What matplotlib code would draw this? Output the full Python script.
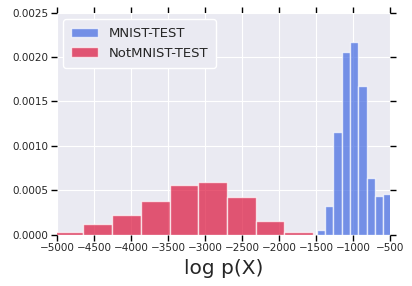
import numpy as np
import matplotlib.pyplot as plt

# bin edges and densities
mnist_edges = [-1490, -1378, -1266, -1154, -1042, -930, -818, -706, -594, -482]
mnist_density = [0.000053, 0.000323, 0.001156, 0.002057, 0.00217,
                 0.001674, 0.000638, 0.000435, 0.000458]

notmnist_edges = [-5029, -4641, -4254, -3866, -3478, -3091, -2703, -2315, -1928, -1540]
notmnist_density = [0.000034, 0.000124, 0.000225, 0.000383, 0.000563,
                    0.000597, 0.000428, 0.000158, 0.000034]

xticks = np.arange(-5000, -499, 500)
yticks = [0.0, 0.0005, 0.0010, 0.0015, 0.0020, 0.0025]

plt.style.use('seaborn-v0_8-darkgrid')
plt.rcParams['font.family'] = ['DejaVu Sans']

fig = plt.figure(figsize=(4.12, 2.86), dpi=100)
ax = fig.add_axes([0.138, 0.179, 0.809, 0.777])

ax.bar(mnist_edges[:-1], mnist_density, width=np.diff(mnist_edges), align='edge',
       color='royalblue', alpha=0.7, edgecolor='white', linewidth=1, label='MNIST-TEST')
ax.bar(notmnist_edges[:-1], notmnist_density, width=np.diff(notmnist_edges), align='edge',
       color='crimson', alpha=0.7, edgecolor='white', linewidth=1, label='NotMNIST-TEST')

ax.set_xlim(-5000, -500)
ax.set_ylim(0, 0.0025)
ax.set_xticks(xticks)
ax.set_yticks(yticks)
ax.yaxis.set_major_formatter(plt.FormatStrFormatter('%.4f'))
ax.tick_params(axis='both', which='major', direction='out', length=4, width=1,
               color='black', labelsize=7.5, labelcolor='#262626',
               top=True, right=True, bottom=True, left=True, pad=2)
ax.set_xlabel('log p(X)', fontsize=14.5, labelpad=4)

leg = ax.legend(loc='upper left', fontsize=9.5, frameon=True, facecolor='#EAEAF2',
                edgecolor='white', framealpha=1, borderpad=0.6)

fig.savefig('out.png', dpi=100)
